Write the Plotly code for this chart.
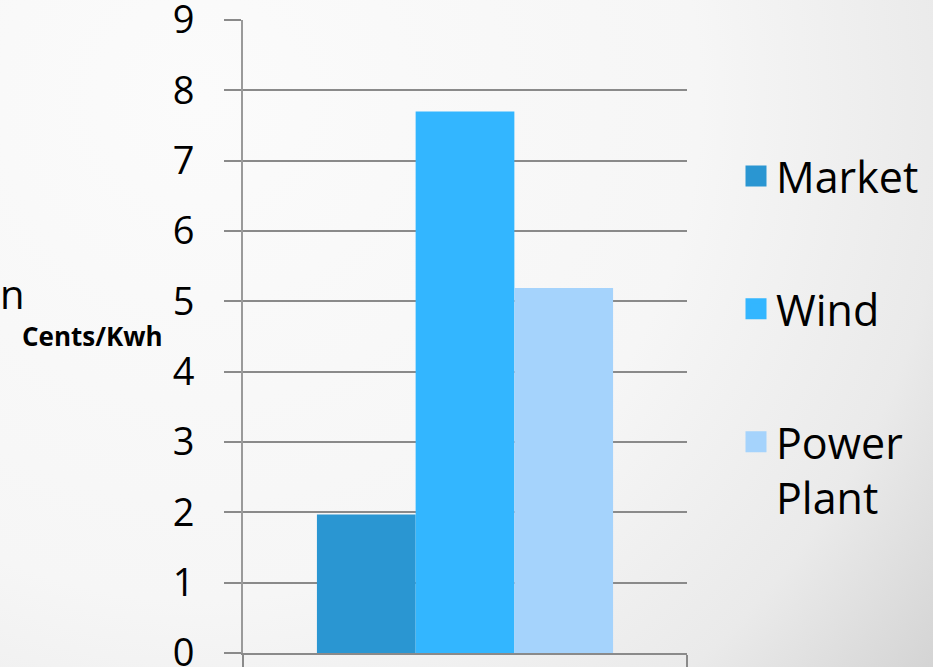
import base64
import plotly.graph_objects as go

# ---- data ----
categories = [""]
series_names = ["Market", "Wind", "Power<br>Plant"]
series_values = [[1.97], [7.7], [5.19]]
series_colors = ["#2A96D2", "#33B6FF", "#A5D3FC"]
y_ticks = [0, 1, 2, 3, 4, 5, 6, 7, 8, 9]

W, H = 933, 667
ML, MR, MT, MB = 243, 246, 20, 14
pw, ph = W - ML - MR, H - MT - MB

FONT = "Open Sans"

fig = go.Figure()
for i, (name, vals, col) in enumerate(zip(series_names, series_values, series_colors)):
    fig.add_trace(go.Bar(
        x=categories, y=vals, name=name, marker=dict(color=col, line=dict(width=0)),
        legendgroup=f"g{i}", showlegend=False,
    ))
# legend entries (square swatches) for each series
for i, (name, col) in enumerate(zip(series_names, series_colors)):
    fig.add_trace(go.Scatter(
        x=categories, y=[None], name=name, mode="markers",
        marker=dict(symbol="square", size=16, color=col, line=dict(width=5, color=col)),
        legendgroup=f"g{i}", showlegend=True, hoverinfo="skip",
    ))

svg = f'''<svg xmlns="http://www.w3.org/2000/svg" width="{W}" height="{H}" viewBox="0 0 {W} {H}" preserveAspectRatio="none">
<defs><radialGradient id="g" gradientUnits="userSpaceOnUse" cx="200" cy="100" r="1000">
<stop offset="0" stop-color="#fbfbfb"/><stop offset="0.5" stop-color="#f6f6f6"/>
<stop offset="0.75" stop-color="#eaeaea"/><stop offset="1" stop-color="#cbcbcb"/>
</radialGradient></defs><rect width="{W}" height="{H}" fill="url(#g)"/></svg>'''
src = "data:image/svg+xml;base64," + base64.b64encode(svg.encode()).decode()

fig.update_layout(
    width=W, height=H,
    margin=dict(l=ML, r=MR, t=MT, b=MB, pad=0, autoexpand=False),
    paper_bgcolor="rgba(0,0,0,0)", plot_bgcolor="rgba(0,0,0,0)",
    barmode="group", bargap=0.333, bargroupgap=0,
    font=dict(family=FONT, color="#000000"),
    showlegend=True,
    legend=dict(
        x=(736 - ML) / pw, xanchor="left", y=1 - (337 - MT) / ph, yanchor="middle",
        font=dict(size=43, family=FONT, color="#000"),
        bgcolor="rgba(0,0,0,0)", tracegroupgap=74, itemwidth=30,
        itemsizing="trace", valign="top",
    ),
    images=[dict(
        source=src, xref="paper", yref="paper",
        x=-ML / pw, y=1 + MT / ph, sizex=W / pw, sizey=H / ph,
        xanchor="left", yanchor="top", sizing="stretch", layer="below",
    )],
    xaxis=dict(
        showgrid=False, showline=True, linecolor="#8a8a8a", linewidth=2,
        ticks="outside", tickson="boundaries", ticklen=14, tickcolor="#8a8a8a",
        tickwidth=2, showticklabels=False, zeroline=False, automargin=False,
    ),
    yaxis=dict(
        range=[0, 9], tickvals=y_ticks, ticktext=[str(v) for v in y_ticks],
        showgrid=True, gridcolor="#8a8a8a", gridwidth=2,
        showline=True, linecolor="#9a9a9a", linewidth=2,
        ticks="outside", ticklen=17, tickcolor="#8a8a8a", tickwidth=2,
        ticklabelstandoff=22, zeroline=False, automargin=False,
        ticklabeloverflow="allow",
        tickfont=dict(size=38, family=FONT, color="#000"),
    ),
    annotations=[
        dict(text="n", xref="paper", yref="paper", x=-ML / pw, y=1 - (293 - MT) / ph,
             xanchor="left", yanchor="middle", showarrow=False,
             font=dict(size=40, family=FONT, color="#000"), xshift=-2),
        dict(text="<b>Cents/Kwh</b>", xref="paper", yref="paper", x=(165 - ML) / pw,
             y=1 - (336 - MT) / ph, xanchor="right", yanchor="middle", showarrow=False,
             font=dict(size=26, family=FONT, color="#000")),
    ],
)

fig.write_html("out.html")
